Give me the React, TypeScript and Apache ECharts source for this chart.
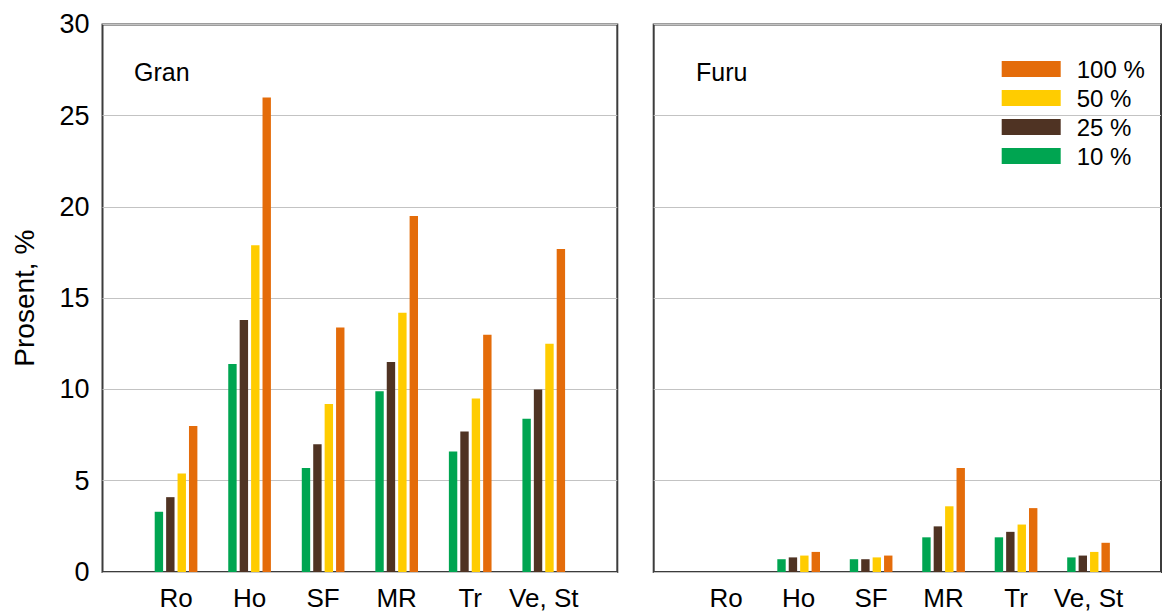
import React, { useEffect, useRef } from "react";
import * as echarts from "echarts";

const categories = ["Ro", "Ho", "SF", "MR", "Tr", "Ve, St"];
const seriesNames = ["10 %", "25 %", "50 %", "100 %"];
const legendOrder = ["100 %", "50 %", "25 %", "10 %"];
const colors = ["#00A551", "#4F3323", "#FFCC00", "#E46C0A"];

const gran10 = [3.3, 11.4, 5.7, 9.9, 6.6, 8.4];
const gran25 = [4.1, 13.8, 7.0, 11.5, 7.7, 10.0];
const gran50 = [5.4, 17.9, 9.2, 14.2, 9.5, 12.5];
const gran100 = [8.0, 26.0, 13.4, 19.5, 13.0, 17.7];

const furu10 = [0, 0.7, 0.7, 1.9, 1.9, 0.8];
const furu25 = [0, 0.8, 0.7, 2.5, 2.2, 0.9];
const furu50 = [0, 0.9, 0.8, 3.6, 2.6, 1.1];
const furu100 = [0, 1.1, 0.9, 5.7, 3.5, 1.6];

const yTicks = { min: 0, max: 30, interval: 5 };
const panelNames = ["Gran", "Furu"];
const yTitle = "Prosent, %";

const FONT = "'Liberation Sans', Arial, sans-serif";

export default function App() {
  const ref = useRef<HTMLDivElement>(null);

  useEffect(() => {
    if (!ref.current) return;
    const chart = echarts.init(ref.current, undefined, { renderer: "svg" });
    const axisCats = ["", ...categories, ""];
    const pad = (arr: number[]) => [null, ...arr, null];
    const granData = [gran10, gran25, gran50, gran100];
    const furuData = [furu10, furu25, furu50, furu100];

    const gridCommon = {
      top: 24.4,
      height: 547.6,
      width: 514.8,
      show: true,
      borderColor: "#3c3c3c",
      borderWidth: 2,
      backgroundColor: "transparent",
      containLabel: false,
    };

    const xAxisCommon = {
      type: "category" as const,
      data: axisCats,
      boundaryGap: false,
      axisTick: { show: false },
      axisLine: { show: false },
      splitLine: { show: false },
      axisLabel: {
        fontSize: 26,
        color: "#000",
        fontFamily: FONT,
        margin: 13,
        interval: 0,
      },
    };

    const yAxisCommon = {
      type: "value" as const,
      min: yTicks.min,
      max: yTicks.max,
      interval: yTicks.interval,
      axisLine: { show: false },
      axisTick: { show: false },
      splitLine: { show: true, lineStyle: { color: "#c3c3c3", width: 1 } },
    };

    const series: any[] = [];
    seriesNames.forEach((name, i) => {
      series.push({
        name,
        type: "bar",
        xAxisIndex: 0,
        yAxisIndex: 0,
        data: pad(granData[i]),
        barWidth: 8.4,
        barGap: "36%",
        itemStyle: { color: colors[i] },
      });
    });
    seriesNames.forEach((name, i) => {
      series.push({
        name,
        type: "bar",
        xAxisIndex: 1,
        yAxisIndex: 1,
        data: pad(furuData[i]),
        barWidth: 8.4,
        barGap: "36%",
        itemStyle: { color: colors[i] },
      });
    });

    chart.setOption({
      animation: false,
      backgroundColor: "#ffffff",
      textStyle: { fontFamily: FONT },
      grid: [
        { ...gridCommon, left: 102.5 },
        { ...gridCommon, left: 653.7 },
      ],
      xAxis: [
        { ...xAxisCommon, gridIndex: 0 },
        { ...xAxisCommon, gridIndex: 1 },
      ],
      yAxis: [
        {
          ...yAxisCommon,
          gridIndex: 0,
          name: yTitle,
          nameLocation: "middle",
          nameGap: 64,
          nameRotate: 90,
          nameTextStyle: { fontSize: 28, color: "#000", fontFamily: FONT },
          axisLabel: { fontSize: 27, color: "#000", fontFamily: FONT, margin: 13 },
        },
        {
          ...yAxisCommon,
          gridIndex: 1,
          axisLabel: { show: false },
        },
      ],
      legend: {
        data: legendOrder,
        orient: "vertical",
        left: 1001.7,
        top: 54.5,
        padding: 0,
        itemGap: 0,
        itemWidth: 59,
        itemHeight: 16,
        icon: "rect",
        textStyle: {
          fontSize: 24,
          color: "#000",
          fontFamily: FONT,
          lineHeight: 29,
          padding: [0, 0, 0, 11],
        },
      },
      graphic: [
        {
          type: "text",
          left: 134,
          top: 59,
          style: { text: panelNames[0], fill: "#000", font: `25px ${FONT}` },
        },
        {
          type: "text",
          left: 696,
          top: 59,
          style: { text: panelNames[1], fill: "#000", font: `25px ${FONT}` },
        },
      ],
      series,
    });

    return () => chart.dispose();
  }, []);

  return (
    <div
      ref={ref}
      style={{ position: "fixed", left: 0, top: 0, width: 1164, height: 612 }}
    />
  );
}
